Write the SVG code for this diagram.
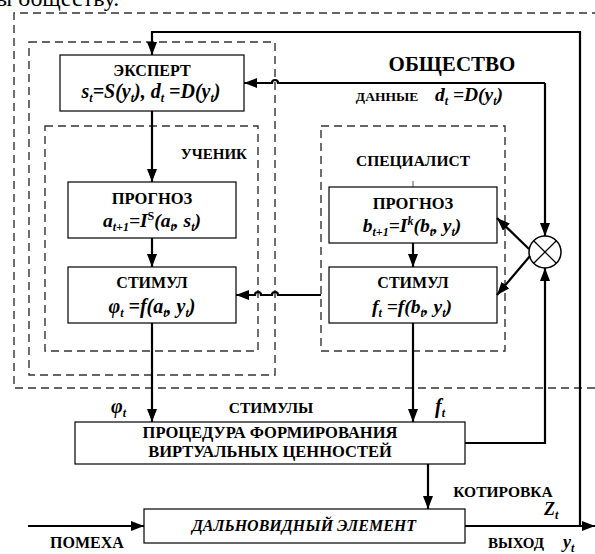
<svg xmlns="http://www.w3.org/2000/svg" width="595" height="554" viewBox="0 0 595 554">
<defs>
<style>
text{font-family:'Liberation Serif','DejaVu Serif',serif;font-weight:bold;fill:#000}
.i{font-style:italic}
.box{fill:#fff;stroke:#000;stroke-width:1.2}
.dash{fill:none;stroke:#333;stroke-width:1.4;stroke-dasharray:8 5}
.c{fill:none;stroke:#000;stroke-width:2.2}
.s{font-size:12px}
</style>
<marker id="ah" markerUnits="userSpaceOnUse" markerWidth="14" markerHeight="10" refX="13" refY="5" orient="auto">
<path d="M0,0 L13,5 L0,10 z" fill="#000"/>
</marker>
</defs>
<rect width="595" height="554" fill="#fff"/>
<text x="-4" y="6" style="font-weight:normal;font-size:24px">ы обществу.</text>

<g id="society">
<path class="dash" d="M600 13 H14 V388 H600"/>
<text x="452" y="71" text-anchor="middle" font-size="21">ОБЩЕСТВО</text>
</g>
<g id="expert-learner-frame"><rect class="dash" x="29" y="42" width="246" height="333"/></g>
<g id="learner-frame">
<rect class="dash" x="45" y="126" width="213" height="225"/>
<text x="247" y="159" text-anchor="end" font-size="15">УЧЕНИК</text>
</g>
<g id="specialist-frame">
<rect class="dash" x="321" y="126" width="184" height="225"/>
<text x="413" y="166" text-anchor="middle" font-size="15.5">СПЕЦИАЛИСТ</text>
<line x1="413" y1="181" x2="413" y2="187" stroke="#555" stroke-width="1"/>
</g>

<g id="expert">
<rect class="box" x="60" y="55" width="184" height="56"/>
<text x="152" y="76" text-anchor="middle" font-size="16">ЭКСПЕРТ</text>
<text class="i" x="151" y="98" text-anchor="middle" font-size="20">s<tspan class="s" dy="4">t</tspan><tspan dy="-4">=S(y</tspan><tspan class="s" dy="4">t</tspan><tspan dy="-4">), d</tspan><tspan class="s" dy="4">t</tspan><tspan dy="-4"> =D(y</tspan><tspan class="s" dy="4">t</tspan><tspan dy="-4">)</tspan></text>
</g>
<g id="learner-forecast">
<rect class="box" x="68" y="182" width="168" height="56"/>
<text x="152" y="204" text-anchor="middle" font-size="16.5">ПРОГНОЗ</text>
<text class="i" x="152" y="227" text-anchor="middle" font-size="19.5">a<tspan class="s" dy="4">t+1</tspan><tspan dy="-4">=I</tspan><tspan class="s" dy="-7" style="font-style:normal">S</tspan><tspan dy="7">(a</tspan><tspan class="s" dy="4">t</tspan><tspan dy="-4">, s</tspan><tspan class="s" dy="4">t</tspan><tspan dy="-4">)</tspan></text>
</g>
<g id="learner-stimulus">
<rect class="box" x="68" y="267" width="168" height="56"/>
<text x="152" y="288" text-anchor="middle" font-size="16">СТИМУЛ</text>
<text class="i" x="152" y="313" text-anchor="middle" font-size="20">φ<tspan class="s" dy="4">t</tspan><tspan dy="-4"> =f(a</tspan><tspan class="s" dy="4">t</tspan><tspan dy="-4">, y</tspan><tspan class="s" dy="4">t</tspan><tspan dy="-4">)</tspan></text>
</g>
<g id="specialist-forecast">
<rect class="box" x="329" y="187" width="168" height="56"/>
<text x="413" y="209" text-anchor="middle" font-size="16.5">ПРОГНОЗ</text>
<text class="i" x="412" y="232" text-anchor="middle" font-size="19.5">b<tspan class="s" dy="4">t+1</tspan><tspan dy="-4">=I</tspan><tspan class="s" dy="-7">k</tspan><tspan dy="7">(b</tspan><tspan class="s" dy="4">t</tspan><tspan dy="-4">, y</tspan><tspan class="s" dy="4">t</tspan><tspan dy="-4">)</tspan></text>
</g>
<g id="specialist-stimulus">
<rect class="box" x="329" y="267" width="168" height="56"/>
<text x="413" y="288" text-anchor="middle" font-size="16">СТИМУЛ</text>
<text class="i" x="412" y="313" text-anchor="middle" font-size="19.5">f<tspan class="s" dy="4">t</tspan><tspan dy="-4"> =f(b</tspan><tspan class="s" dy="4">t</tspan><tspan dy="-4">, y</tspan><tspan class="s" dy="4">t</tspan><tspan dy="-4">)</tspan></text>
</g>
<g id="multiplier">
<circle cx="545" cy="252" r="16" fill="#fff" stroke="#000" stroke-width="1.5"/>
<path d="M533.7 240.7 L556.3 263.3 M556.3 240.7 L533.7 263.3" stroke="#000" stroke-width="1.3"/>
</g>
<g id="procedure">
<rect class="box" x="75" y="422" width="390" height="42"/>
<text x="270" y="438" text-anchor="middle" font-size="16.5">ПРОЦЕДУРА ФОРМИРОВАНИЯ</text>
<text x="270" y="457" text-anchor="middle" font-size="16.5">ВИРТУАЛЬНЫХ ЦЕННОСТЕЙ</text>
</g>
<g id="farsighted">
<rect class="box" x="144" y="509" width="321" height="34"/>
<text class="i" x="304" y="531" text-anchor="middle" font-size="16">ДАЛЬНОВИДНЫЙ ЭЛЕМЕНТ</text>
</g>

<g id="connectors">
<path class="c" d="M465 526 H595" marker-end="url(#ah)"/>
<path class="c" d="M580 526 V32 H152 V55" marker-end="url(#ah)"/>
<path class="c" d="M545 83 H278 a3 3 0 0 0 -6 0 H244" marker-end="url(#ah)"/>
<path class="c" d="M545 83 V236" marker-end="url(#ah)"/>
<path class="c" d="M152 111 V182" marker-end="url(#ah)"/>
<path class="c" d="M152 238 V267" marker-end="url(#ah)"/>
<path class="c" d="M413 243 V267" marker-end="url(#ah)"/>
<path class="c" d="M321 295 H278 a3 3 0 0 0 -6 0 H261 a3 3 0 0 0 -6 0 H236" marker-end="url(#ah)"/>
<path class="c" d="M529 249 L497 218" marker-end="url(#ah)"/>
<path class="c" d="M530 256 L497 295" marker-end="url(#ah)"/>
<path class="c" d="M152 323 V422" marker-end="url(#ah)"/>
<path class="c" d="M413 323 V422" marker-end="url(#ah)"/>
<path class="c" d="M465 443 H545 V268" marker-end="url(#ah)"/>
<path class="c" d="M428 464 V509" marker-end="url(#ah)"/>
<path class="c" d="M28 526 H144" marker-end="url(#ah)"/>
</g>

<g id="labels">
<text x="387" y="101" text-anchor="middle" font-size="13.5">ДАННЫЕ</text>
<text class="i" x="469" y="101" text-anchor="middle" font-size="19.5">d<tspan class="s" dy="4">t</tspan><tspan dy="-4"> =D(y</tspan><tspan class="s" dy="4">t</tspan><tspan dy="-4">)</tspan></text>
<text class="i" x="111" y="413" font-size="20">φ<tspan class="s" dy="4">t</tspan></text>
<text x="271" y="413" text-anchor="middle" font-size="15.5">СТИМУЛЫ</text>
<text class="i" x="435" y="413" font-size="20">f<tspan class="s" dy="4">t</tspan></text>
<text x="503" y="497" text-anchor="middle" font-size="15.5">КОТИРОВКА</text>
<text class="i" x="544" y="515" font-size="18">Z<tspan class="s" dy="4">t</tspan></text>
<text x="87" y="548" text-anchor="middle" font-size="16">ПОМЕХА</text>
<text x="516" y="548" text-anchor="middle" font-size="15">ВЫХОД</text>
<text class="i" x="563" y="548" font-size="18">y<tspan class="s" dy="4">t</tspan></text>
</g>
</svg>
